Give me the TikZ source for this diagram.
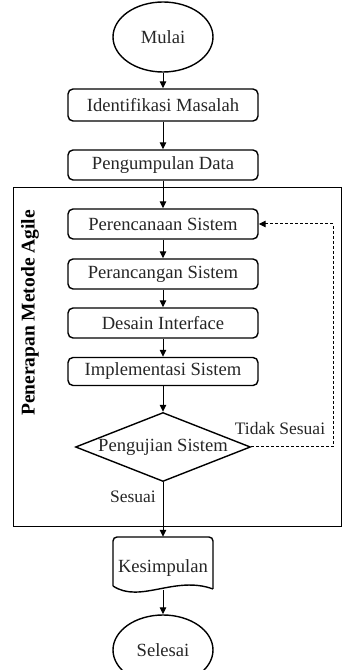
\documentclass[tikz,border=0pt]{standalone}
\usepackage{fontspec}
\setmainfont{Liberation Serif}
\usetikzlibrary{shapes.geometric,arrows.meta}
\begin{document}
\begin{tikzpicture}[x=1pt,y=1pt,
  txt/.style={font=\fontsize{18.6}{20}\selectfont, text=black!85},
  procbox/.style={txt, draw, line width=1.4pt, rounded corners=5pt, minimum width=190pt, minimum height=30pt, inner sep=0pt},
  term/.style={txt, draw, line width=1.4pt, ellipse, minimum width=100pt, minimum height=70pt, inner sep=0pt},
  decision/.style={txt, draw, line width=1.4pt, diamond, aspect=2.54, minimum width=175pt, minimum height=69pt, inner sep=0pt},
  lbl/.style={font=\fontsize{17.5}{19}\selectfont, text=black!85},
  flow/.style={line width=1pt, -{Triangle[length=7pt,width=6.5pt]}},
  fb/.style={line width=1pt, dash pattern=on 3pt off 2pt, -{Triangle[length=7pt,width=6.5pt]}}
]
\useasboundingbox (0,0) rectangle (342,670);
% frame
\draw[line width=1pt] (13,482) rectangle (341,143);
\node[rotate=90, font=\bfseries\fontsize{19.5}{21}\selectfont] (lbl) at (30,357) {Penerapan Metode Agile};

\node[term] (mulai) at (163,633) {Mulai};
\node[procbox, minimum height=32pt] (iden) at (163,565) {Identifikasi Masalah};
\node[procbox] (peng) at (163,505) {Pengumpulan Data};
\node[procbox] (perenc) at (163,446) {Perencanaan Sistem};
\node[procbox] (peranc) at (163,396) {Perancangan Sistem};
\node[procbox] (desain) at (163,347) {Desain Interface};
\node[procbox, minimum height=28pt] (impl) at (163,298.5) {Implementasi Sistem};
\node[decision] (uji) at (163,223) {Pengujian Sistem};

% Kesimpulan document shape
\node[minimum width=100pt, minimum height=51pt, inner sep=0pt] (kes) at (163,107.5) {};
\draw[line width=1.4pt, rounded corners=4pt]
  (113,84) -- (113,133) -- (213,133) -- (213,81);
\draw[line width=1.4pt]
  (113,84) .. controls (140,66) and (175,95) .. (213,81);
\node[txt] (kestext) at (163,102) {Kesimpulan};

\node[term] (selesai) at (163,20) {Selesai};

\coordinate (c1) at (333,223);
\coordinate (c2) at (333,446);

\draw[flow] (mulai) -- (iden);
\draw[flow] (iden) -- (peng);
\draw[flow] (peng) -- (perenc);
\draw[flow] (perenc) -- (peranc);
\draw[flow] (peranc) -- (desain);
\draw[flow] (desain) -- (impl);
\draw[flow] (impl) -- (uji);
\draw[flow] (uji.south) -- (kes.north);
\draw[flow] (163,80) -- (selesai.north);
\draw[fb] (uji.east) -- (c1) -- (c2) -- (perenc.east);

\node[lbl] (tidak) at (280,241) {Tidak Sesuai};
\node[lbl] (sesuai) at (133,173) {Sesuai};
\end{tikzpicture}
\end{document}
